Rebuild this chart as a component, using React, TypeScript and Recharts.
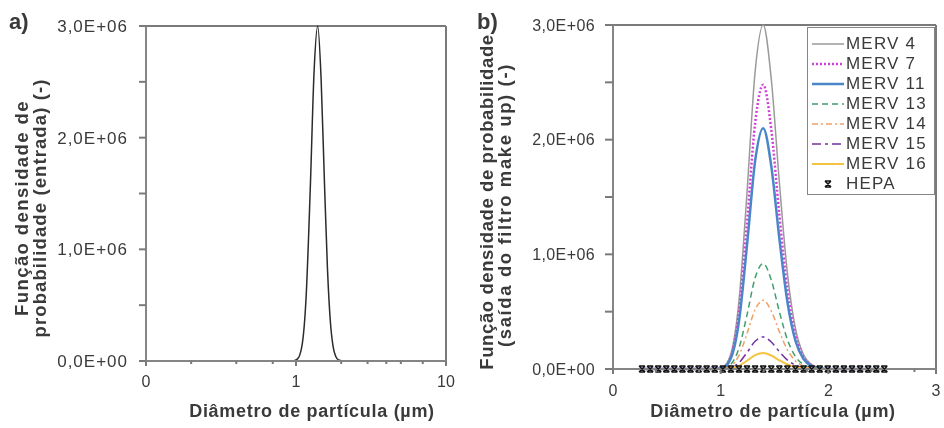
// Two-panel particle size PDF: a) inlet (log x), b) outlet per filter class (linear x).

import React from 'react'
import { LineChart, Line, XAxis, YAxis, ReferenceLine } from 'recharts'

// ─── data ─────────────────────────────────────────────────────────────────────
const inletDiameters = [0.1, 0.2, 0.5, 0.8, 0.95, 1.02, 1.095, 1.17, 1.245, 1.32, 1.395, 1.47, 1.545, 1.62, 1.695, 1.77, 1.845, 1.92, 2.1, 3, 5, 10]
const inletDensity = [0, 0, 0, 0, 0, 16000, 134000, 594000, 1545000, 2592000, 3000000, 2529000, 1629000, 834000, 351000, 124000, 38000, 10000, 0, 0, 0, 0]

const outletDiameters = [
  0.27, 0.345, 0.42, 0.495, 0.57, 0.645, 0.72, 0.795, 0.87, 0.945,
  1.02, 1.095, 1.17, 1.245, 1.32, 1.395, 1.47, 1.545, 1.62, 1.695,
  1.77, 1.845, 1.92, 1.995, 2.07, 2.145, 2.22, 2.295, 2.37, 2.445, 2.52,
]
const merv4 = [0, 0, 0, 0, 0, 0, 0, 0, 0, 0, 16000, 134000, 594000, 1545000, 2592000, 3000000, 2529000, 1629000, 834000, 351000, 124000, 38000, 10000, 0, 0, 0, 0, 0, 0, 0, 0]
const merv7 = [0, 0, 0, 0, 0, 0, 0, 0, 0, 0, 13000, 111000, 491000, 1277000, 2143000, 2480000, 2091000, 1347000, 689000, 290000, 102000, 31000, 8000, 0, 0, 0, 0, 0, 0, 0, 0]
const merv11 = [0, 0, 0, 0, 0, 0, 0, 0, 0, 0, 11000, 94000, 416000, 1082000, 1814000, 2100000, 1770000, 1140000, 584000, 246000, 87000, 26000, 7000, 0, 0, 0, 0, 0, 0, 0, 0]
const merv13 = [0, 0, 0, 0, 0, 0, 0, 0, 0, 0, 5000, 41000, 182000, 474000, 795000, 920000, 776000, 500000, 256000, 108000, 38000, 12000, 3000, 0, 0, 0, 0, 0, 0, 0, 0]
const merv14 = [0, 0, 0, 0, 0, 0, 0, 0, 0, 0, 3000, 27000, 119000, 309000, 518000, 600000, 506000, 326000, 167000, 70000, 25000, 8000, 2000, 0, 0, 0, 0, 0, 0, 0, 0]
const merv15 = [0, 0, 0, 0, 0, 0, 0, 0, 0, 0, 2000, 13000, 55000, 144000, 242000, 280000, 236000, 152000, 78000, 33000, 12000, 4000, 1000, 0, 0, 0, 0, 0, 0, 0, 0]
const merv16 = [0, 0, 0, 0, 0, 0, 0, 0, 0, 0, 1000, 6000, 28000, 72000, 121000, 140000, 118000, 76000, 39000, 16000, 6000, 2000, 0, 0, 0, 0, 0, 0, 0, 0, 0]
const hepa = [0, 0, 0, 0, 0, 0, 0, 0, 0, 0, 0, 0, 0, 0, 0, 0, 0, 0, 0, 0, 0, 0, 0, 0, 0, 0, 0, 0, 0, 0, 0]

const densityTicks = [0, 500000, 1000000, 1500000, 2000000, 2500000, 3000000]
const densityLabels = [0, 1000000, 2000000, 3000000]
const inletTicks = [0.1, 0.2, 0.3, 0.4, 0.5, 0.6, 0.7, 0.8, 0.9, 1, 2, 3, 4, 5, 6, 7, 8, 9, 10]
const inletLabels: Record<number, string> = { 0.1: '0', 1: '1', 10: '10' }
const outletTicks = [0, 0.2, 0.4, 0.6, 0.8, 1, 1.2, 1.4, 1.6, 1.8, 2, 2.2, 2.4, 2.6, 2.8, 3]
const outletLabels = [0, 1, 2, 3]

// ─── styles ───────────────────────────────────────────────────────────────────
const FONT = '"Liberation Sans", Arial, sans-serif'
const AXIS = '#858585'
const TEXT = '#3a3a3a'

type SeriesDef = { key: string; name: string; color: string; width: number; dash?: string; marker?: boolean }

const SERIES: SeriesDef[] = [
  { key: 'm4', name: 'MERV 4', color: '#9a9a9a', width: 1.5 },
  { key: 'm7', name: 'MERV 7', color: '#d23fd8', width: 2.5, dash: '2 2' },
  { key: 'm11', name: 'MERV 11', color: '#4a86c8', width: 2.5 },
  { key: 'm13', name: 'MERV 13', color: '#3f9f6e', width: 1.5, dash: '6 4' },
  { key: 'm14', name: 'MERV 14', color: '#f0a066', width: 1.5, dash: '6 3 2 3' },
  { key: 'm15', name: 'MERV 15', color: '#7030a0', width: 1.5, dash: '9 4 3 4' },
  { key: 'm16', name: 'MERV 16', color: '#f5c342', width: 2 },
  { key: 'hepa', name: 'HEPA', color: '#111111', width: 0, marker: true },
]

const outletValues: Record<string, number[]> = {
  m4: merv4, m7: merv7, m11: merv11, m13: merv13, m14: merv14, m15: merv15, m16: merv16, hepa,
}

const inletData = inletDiameters.map((d, i) => ({ d, v: inletDensity[i] }))
const outletData = outletDiameters.map((d, i) => {
  const row: Record<string, number> = { d }
  SERIES.forEach((s) => { row[s.key] = outletValues[s.key][i] })
  return row
})

function fmtSci(v: number): string {
  if (v === 0) return '0,0E+00'
  const e = Math.floor(Math.log10(v))
  const m = v / Math.pow(10, e)
  return `${m.toFixed(1).replace('.', ',')}E+${String(e).padStart(2, '0')}`
}

// ─── tick renderers (tick marks drawn here, recharts tickLine off) ────────────
function makeYTick(fontSize: number, spacing: number, size: number, margin: number) {
  return (props: any) => {
    const { x, y, payload } = props
    const axisX = Number(x) + size + margin
    const labelled = densityLabels.includes(payload.value)
    return (
      <g>
        <line x1={axisX - size} x2={axisX} y1={Number(y)} y2={Number(y)} stroke="#7a7a7a" strokeWidth={2} />
        {labelled && (
          <text x={x} y={y} dy="0.36em" textAnchor="end" fill={TEXT} fontSize={fontSize} fontFamily={FONT} letterSpacing={spacing}>
            {fmtSci(payload.value)}
          </text>
        )}
      </g>
    )
  }
}

function makeXTick(label: (v: number) => string | null, fontSize: number, size: number, margin: number) {
  return (props: any) => {
    const { x, y, payload } = props
    const axisY = Number(y) - size - margin
    const text = label(payload.value)
    return (
      <g>
        <line x1={Number(x)} x2={Number(x)} y1={axisY} y2={axisY + (text === null ? size - 1 : size + 1)} stroke="#7a7a7a" strokeWidth={2} />
        {text !== null && (
          <text x={x} y={y} dy="0.71em" textAnchor="middle" fill={TEXT} fontSize={fontSize} fontFamily={FONT}>
            {text}
          </text>
        )}
      </g>
    )
  }
}

function HepaStar(props: any) {
  const { cx, cy, index } = props
  if (cx == null || cy == null) return <g key={index} />
  const r = 3
  return (
    <path
      key={index}
      d={`M${cx - r},${cy - r}L${cx + r},${cy + r}M${cx - r},${cy + r}L${cx + r},${cy - r}M${cx - r},${cy - r}H${cx + r}M${cx - r},${cy + r}H${cx + r}`}
      stroke="#111"
      strokeWidth={1.6}
      fill="none"
    />
  )
}

// ─── legend ───────────────────────────────────────────────────────────────────
function OutletLegend() {
  return (
    <div
      style={{
        position: 'absolute', left: 807, top: 27, width: 128, height: 168,
        border: `1.5px solid ${AXIS}`, background: '#fff', boxSizing: 'border-box',
        paddingTop: 6, fontFamily: FONT,
      }}
    >
      {SERIES.map((s) => (
        <div key={s.key} style={{ display: 'flex', alignItems: 'center', height: 20 }}>
          <svg width={36} height={20} style={{ marginLeft: 2 }}>
            {s.marker ? (
              <HepaStar cx={18} cy={10} index={0} />
            ) : (
              <line x1={2} x2={34} y1={10} y2={10} stroke={s.color} strokeWidth={s.width} strokeDasharray={s.dash} />
            )}
          </svg>
          <span style={{ fontSize: 17, color: TEXT, letterSpacing: 1.2, lineHeight: '20px' }}>{s.name}</span>
        </div>
      ))}
    </div>
  )
}

// ─── titles (drawn beneath the charts) ────────────────────────────────────────
function Titles() {
  const bold = { fontFamily: FONT, fontWeight: 700, fill: TEXT } as const
  return (
    <svg width={944} height={428} style={{ position: 'absolute', left: 0, top: 0 }}>
      <text x={9} y={29} fontSize={22} {...bold}>a)</text>
      <text x={477} y={29} fontSize={22} {...bold}>b)</text>

      <text x={312} y={417} fontSize={18} letterSpacing={0.7} textAnchor="middle" {...bold}>Diâmetro de partícula (µm)</text>
      <text x={773} y={417} fontSize={18} letterSpacing={0.7} textAnchor="middle" {...bold}>Diâmetro de partícula (µm)</text>

      <g transform="translate(28,208) rotate(-90)">
        <text x={0} y={0} fontSize={18.5} letterSpacing={1.4} textAnchor="middle" {...bold}>Função densidade de</text>
      </g>
      <g transform="translate(46,208) rotate(-90)">
        <text x={0} y={0} fontSize={18.5} letterSpacing={1.1} textAnchor="middle" {...bold}>probabilidade (entrada) (-)</text>
      </g>

      <g transform="translate(493,202) rotate(-90)">
        <text x={0} y={0} fontSize={18.5} letterSpacing={0.6} textAnchor="middle" {...bold}>Função densidade de probabilidade</text>
      </g>
      <g transform="translate(511,205) rotate(-90)">
        <text x={0} y={0} fontSize={18.5} letterSpacing={1.6} textAnchor="middle" {...bold}>(saída do filtro make up) (-)</text>
      </g>
    </svg>
  )
}

// ─── panels ───────────────────────────────────────────────────────────────────
function InletPanel() {
  return (
    <div style={{ position: 'absolute', left: 0, top: 0 }}>
      <LineChart width={470} height={428} data={inletData} margin={{ top: 26, right: 24, left: 0, bottom: 0 }}>
        <XAxis
          dataKey="d" type="number" scale="log" domain={[0.1, 10]} ticks={inletTicks} allowDataOverflow
          height={67} tickSize={4} tickMargin={11} tickLine={false}
          stroke={AXIS} strokeWidth={2}
          tick={makeXTick((v) => inletLabels[v] ?? null, 16, 4, 11)}
        />
        <YAxis
          type="number" domain={[0, 3000000]} ticks={densityTicks}
          width={146} tickSize={7} tickMargin={11} tickLine={false}
          stroke={AXIS} strokeWidth={2}
          tick={makeYTick(17, 1, 7, 11)}
        />
        <ReferenceLine y={3000000} stroke="#7a7a7a" strokeWidth={2} />
        <ReferenceLine x={10} stroke="#7a7a7a" strokeWidth={2} />
        <Line type="monotone" dataKey="v" stroke="#2b2b2b" strokeWidth={1.5} dot={false} isAnimationActive={false} />
      </LineChart>
    </div>
  )
}

function OutletPanel() {
  return (
    <div style={{ position: 'absolute', left: 470, top: 0 }}>
      <LineChart width={474} height={428} data={outletData} margin={{ top: 25, right: 8, left: 0, bottom: 0 }}>
        <XAxis
          dataKey="d" type="number" domain={[0, 3]} ticks={outletTicks}
          height={59} tickSize={4} tickMargin={12} tickLine={false}
          stroke={AXIS} strokeWidth={2}
          tick={makeXTick((v) => (outletLabels.includes(v) ? String(v) : null), 16, 4, 12)}
        />
        <YAxis
          type="number" domain={[0, 3000000]} ticks={densityTicks}
          width={143} tickSize={8} tickMargin={10} tickLine={false}
          stroke={AXIS} strokeWidth={2}
          tick={makeYTick(16, 0.4, 8, 10)}
        />
        <ReferenceLine y={3000000} stroke="#7a7a7a" strokeWidth={2} />
        <ReferenceLine x={3} stroke="#7a7a7a" strokeWidth={2} />
        {SERIES.map((s) =>
          s.marker ? (
            <Line key={s.key} type="linear" dataKey={s.key} stroke="none" dot={HepaStar} isAnimationActive={false} />
          ) : (
            <Line
              key={s.key} type="monotone" dataKey={s.key} stroke={s.color} strokeWidth={s.width}
              strokeDasharray={s.dash} dot={false} isAnimationActive={false}
            />
          ),
        )}
      </LineChart>
    </div>
  )
}

export default function App() {
  return (
    <div style={{ position: 'fixed', left: 0, top: 0, width: 944, height: 428 }}>
      <Titles />
      <InletPanel />
      <OutletPanel />
      <OutletLegend />
    </div>
  )
}
